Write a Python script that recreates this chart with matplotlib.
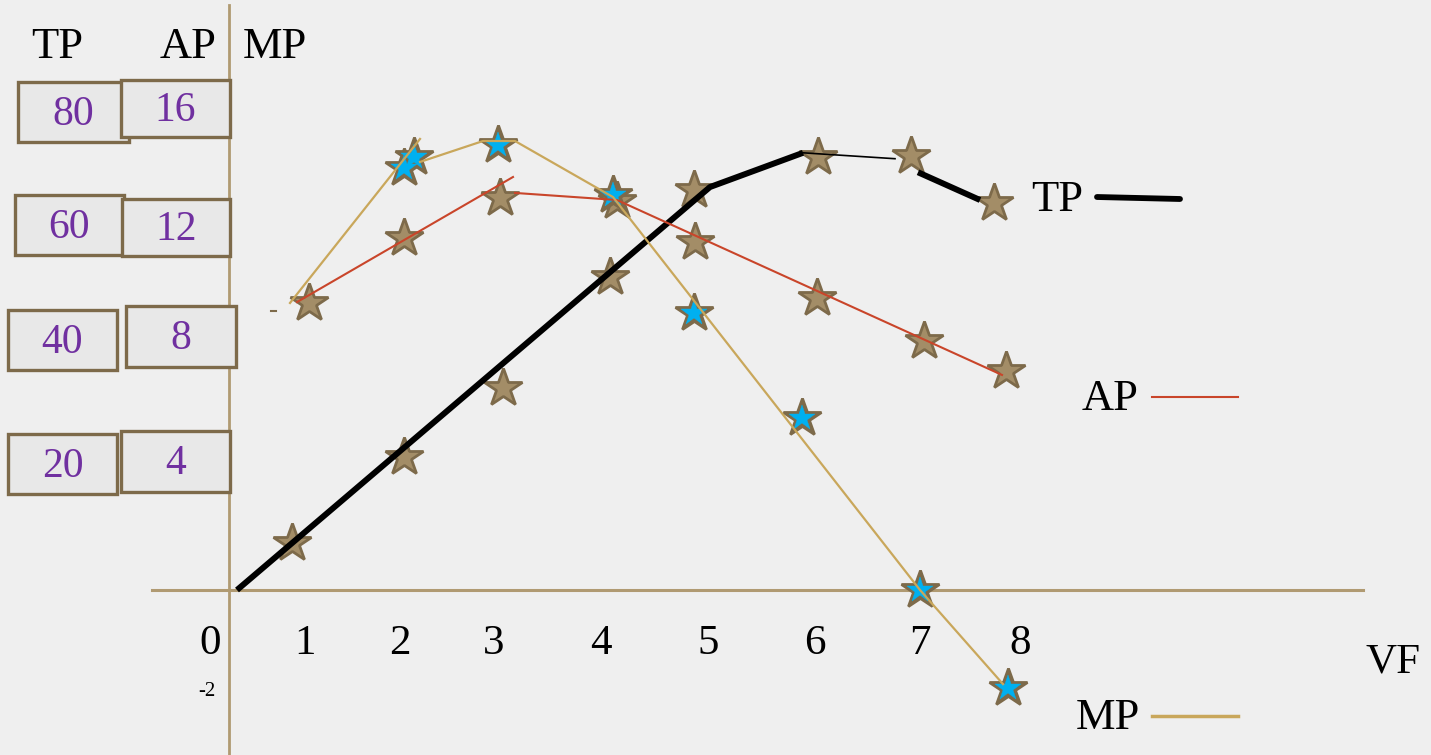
import matplotlib
matplotlib.use("Agg")
import matplotlib.pyplot as plt
from matplotlib.patches import Rectangle

plt.rcParams['font.family'] = ['Liberation Serif', 'DejaVu Serif']

# Axis units: x in VF, y in AP units (TP is drawn at TP/5, as the boxes pair 20<->4)
TP_SCALE = 5.0

# TP stars
tp_star_x = [0.55, 1.67, 2.66, 3.73, 4.57, 5.81, 6.74, 7.57]
tp_star_v = [8.0, 22.5, 34.2, 53.1, 67.8, 73.4, 73.6, 65.6]
# TP curve as sketched (thick / thin / thick pieces)
tp_line1_x = [0.0, 4.73, 5.66]
tp_line1_v = [0.0, 68.3, 74.1]
tp_line2_x = [5.66, 6.58]
tp_line2_v = [74.1, 73.1]
tp_line3_x = [6.81, 7.43]
tp_line3_v = [70.8, 66.1]

# AP stars and line
ap_star_x = [0.72, 1.67, 2.63, 3.80, 4.58, 5.80, 6.87, 7.69]
ap_star_v = [9.73, 11.93, 13.29, 13.19, 11.80, 9.90, 8.44, 7.42]
ap_line1_x = [0.60, 2.76]
ap_line1_v = [9.76, 14.0]
ap_line2_x = [2.78, 3.80, 7.65]
ap_line2_v = [13.46, 13.22, 7.29]

# MP stars and line
mp_star_x = [1.67, 1.77, 2.61, 3.76, 4.57, 5.65, 6.83, 7.71]
mp_star_v = [14.31, 14.68, 15.08, 13.39, 9.39, 5.83, 0.0, -3.32]
mp_line1_x = [0.53, 1.83]
mp_line1_v = [9.73, 15.29]
mp_line2_x = [1.83, 2.46, 2.78, 3.76, 6.83, 7.66]
mp_line2_v = [14.51, 15.22, 15.22, 13.32, 0.0, -3.19]

vf_ticks = ['0', '1', '2', '3', '4', '5', '6', '7', '8']
vf_tick_px = [210, 305, 400, 494, 601, 708, 815, 920, 1020]
tp_box_labels = ['80', '60', '40', '20']
ap_box_labels = ['16', '12', '8', '4']

W, H = 1431, 755
X0, Y0, SX, SY = 237, 590, 100.0, 29.5


def P(px, py):
    # reference pixel -> axis units, for layout of labels and boxes
    return (px - X0) / SX, (Y0 - py) / SY


fig = plt.figure(figsize=(W / 100, H / 100), dpi=100)
fig.patch.set_facecolor('#efefef')
ax = fig.add_axes([0, 0, 1, 1])
ax.set_xlim(-X0 / SX, (W - X0) / SX)
ax.set_ylim((Y0 - H) / SY, Y0 / SY)
ax.set_facecolor('#efefef')
ax.axis('off')

axis_col = '#b09a72'
star_fill = '#a38d67'
star_edge = '#7d6a4a'
blue = '#00b0f0'
red = '#c9452a'
tan = '#c9a75b'
purple = '#7030a0'

# axes lines
ax.plot([P(229, 0)[0]] * 2, [P(0, 5)[1], P(0, 755)[1]], color=axis_col, lw=2, zorder=1)
ax.plot([P(152, 0)[0], P(1363, 0)[0]], [0, 0], color=axis_col, lw=2.2, zorder=1)

# stars
tp_y = [v / TP_SCALE for v in tp_star_v]
ax.plot(tp_star_x, tp_y, ls='none', marker='*', ms=29, mfc=star_fill, mec=star_edge, mew=2, zorder=2)
ax.plot(ap_star_x, ap_star_v, ls='none', marker='*', ms=29, mfc=star_fill, mec=star_edge, mew=2, zorder=2)
ax.plot(mp_star_x, mp_star_v, ls='none', marker='*', ms=29, mfc=star_edge, mec=star_edge, mew=2, zorder=2)
ax.plot(mp_star_x, mp_star_v, ls='none', marker='*', ms=19, mfc=blue, mec=blue, mew=0.3, zorder=2.5)

# lines
ax.plot(tp_line1_x, [v / TP_SCALE for v in tp_line1_v], color='black', lw=4.3, solid_capstyle='butt', zorder=3)
ax.plot(tp_line2_x, [v / TP_SCALE for v in tp_line2_v], color='black', lw=1.2, zorder=3)
ax.plot(tp_line3_x, [v / TP_SCALE for v in tp_line3_v], color='black', lw=4.3, solid_capstyle='butt', zorder=3)
ax.plot(ap_line1_x, ap_line1_v, color=red, lw=1.5, zorder=3)
ax.plot(ap_line2_x, ap_line2_v, color=red, lw=1.5, zorder=3)
ax.plot(mp_line1_x, mp_line1_v, color=tan, lw=1.6, zorder=3)
ax.plot(mp_line2_x, mp_line2_v, color=tan, lw=1.6, zorder=3)
ax.plot([P(271, 0)[0], P(276, 0)[0]], [P(0, 311)[1]] * 2, color=star_edge, lw=1.5, zorder=3)

# tick labels on VF axis
for lab, px in zip(vf_ticks, vf_tick_px):
    ax.text(*P(px, 644), lab, fontsize=31, ha='center', va='center')
ax.text(*P(1393, 662), 'VF', fontsize=31, ha='center', va='center')
ax.text(*P(207, 692), '-2', fontsize=15, ha='center', va='center')

# header labels
ax.text(*P(57, 47), 'TP', fontsize=32, ha='center', va='center')
ax.text(*P(188, 47), 'AP', fontsize=32, ha='center', va='center')
ax.text(*P(275, 47), 'MP', fontsize=32, ha='center', va='center')

# value boxes (left edge, top, right edge, bottom in reference pixels)
tp_boxes = [(18, 82, 129, 142), (15, 195, 124, 255), (8, 310, 117, 370), (8, 434, 117, 494)]
ap_boxes = [(121, 80, 230, 137), (122, 199, 230, 256), (126, 306, 236, 367), (121, 431, 230, 492)]
for labels, boxes in [(tp_box_labels, tp_boxes), (ap_box_labels, ap_boxes)]:
    for lab, (l, t, r, b) in zip(labels, boxes):
        x0, y1 = P(l, t)
        x1, y0 = P(r, b)
        ax.add_patch(Rectangle((x0, y0), x1 - x0, y1 - y0, facecolor='#e8e8e8',
                               edgecolor=star_edge, lw=2.4, zorder=4))
        ax.text((x0 + x1) / 2, (y0 + y1) / 2 - 0.08, lab, fontsize=30, color=purple,
                ha='center', va='center', zorder=5)

# legend-like labels on the right
ax.text(*P(1057, 200), 'TP', fontsize=32, ha='center', va='center')
ax.plot([P(1097, 0)[0], P(1180, 0)[0]], [P(0, 197)[1], P(0, 199)[1]], color='black', lw=4.2,
        solid_capstyle='round')
ax.text(*P(1110, 399), 'AP', fontsize=32, ha='center', va='center')
ax.plot([P(1152, 0)[0], P(1238, 0)[0]], [P(0, 397)[1]] * 2, color=red, lw=1.5)
ax.text(*P(1108, 718), 'MP', fontsize=32, ha='center', va='center')
ax.plot([P(1152, 0)[0], P(1238, 0)[0]], [P(0, 716)[1]] * 2, color=tan, lw=2.5)

fig.savefig('out.png', dpi=100, facecolor=fig.get_facecolor())
